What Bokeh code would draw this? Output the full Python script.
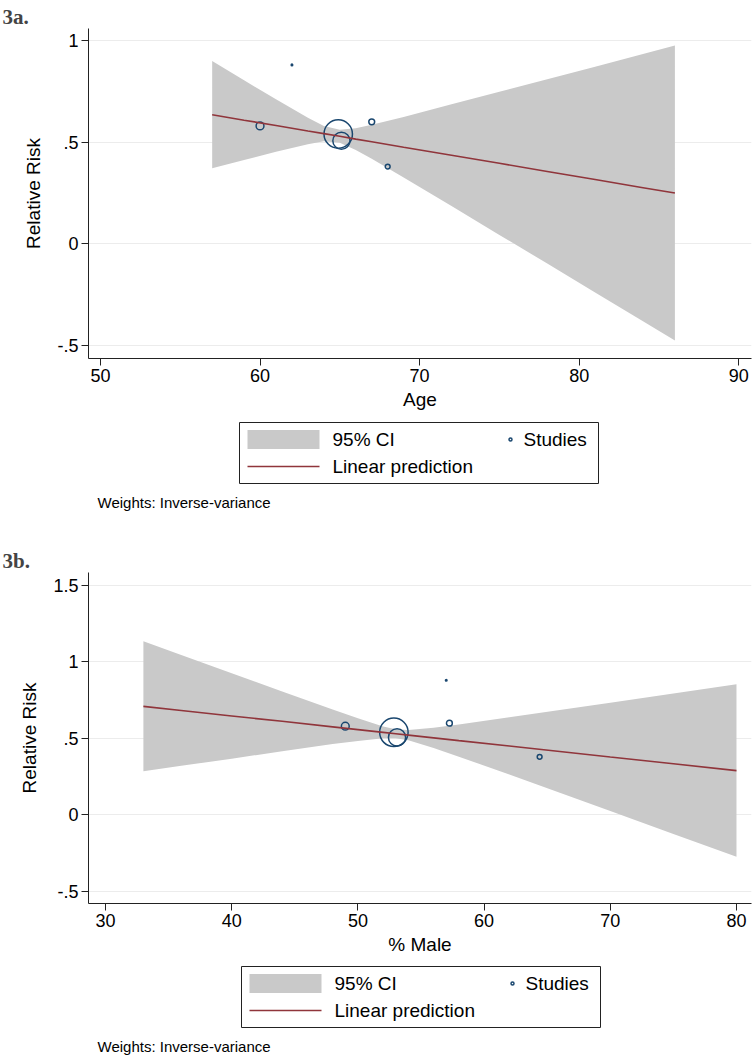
import math
from bokeh.plotting import figure
from bokeh.models import FixedTicker, Range1d, CustomJSTickFormatter
from bokeh.core.properties import value
from bokeh.layouts import column
from bokeh.embed import file_html
from bokeh.resources import INLINE

# ---------------- data ----------------
study_rr = [0.58, 0.88, 0.54, 0.507, 0.60, 0.38]
study_weight = [5.0, 0.2, 66.1, 24.1, 2.8, 1.9]
study_age = [60.0, 62.0, 64.9, 65.1, 67.0, 68.0]
study_male = [49.0, 57.0, 52.85, 53.1, 57.25, 64.4]

age_grid = [57, 59, 61, 63, 64, 65, 66, 67, 69, 72, 75, 78, 81, 84, 86]
age_fit = [0.635, 0.608, 0.582, 0.555, 0.542, 0.529, 0.515, 0.502, 0.475, 0.436,
           0.396, 0.356, 0.316, 0.276, 0.250]
age_lo = [0.372, 0.412, 0.453, 0.490, 0.504, 0.497, 0.462, 0.418, 0.326, 0.186,
          0.044, -0.097, -0.239, -0.381, -0.475]
age_hi = [0.899, 0.804, 0.711, 0.620, 0.580, 0.561, 0.568, 0.586, 0.624, 0.686,
          0.748, 0.809, 0.871, 0.933, 0.975]

male_grid = [33, 36, 40, 44, 48, 50, 52, 53, 54, 56, 58, 62, 66, 70, 75, 80]
male_fit = [0.710, 0.683, 0.647, 0.612, 0.576, 0.558, 0.540, 0.531, 0.522, 0.504,
            0.486, 0.451, 0.415, 0.379, 0.335, 0.290]
male_lo = [0.285, 0.321, 0.368, 0.416, 0.463, 0.484, 0.501, 0.501, 0.488, 0.438,
           0.381, 0.264, 0.145, 0.025, -0.124, -0.274]
male_hi = [1.135, 1.045, 0.926, 0.807, 0.689, 0.632, 0.579, 0.561, 0.556, 0.570,
           0.591, 0.638, 0.686, 0.733, 0.794, 0.854]

age_ticks = [50, 60, 70, 80, 90]
male_ticks = [30, 40, 50, 60, 70, 80]
rr_ticks_a = [-0.5, 0, 0.5, 1]
rr_ticks_b = [-0.5, 0, 0.5, 1, 1.5]

legend_labels = ["95% CI", "Studies", "Linear prediction"]
note_text = "Weights: Inverse-variance"

# ---------------- styles ----------------
GRAY = "#c9c9c9"
MAROON = "#90353b"
NAVY = "#1a476f"
SANS = "Liberation Sans"
SIZE_K = 3.5
W = 753
LEFT = 88
RIGHT = 2
FRAME_L = LEFT              # page x of the plot frame's left edge
FRAME_R = W - RIGHT         # page x of the plot frame's right edge


def panel(tag, xs, grid, fit, lo, hi, xlabel, xr, yr, xticks, yticks,
          height, top):
    p = figure(width=W, height=height, output_backend="svg", toolbar_location=None,
               x_range=Range1d(*xr), y_range=Range1d(*yr),
               min_border_left=LEFT, min_border_right=RIGHT, min_border_top=top,
               min_border_bottom=0)
    p.outline_line_color = None
    p.title.text = tag
    p.title.align = "left"
    p.title.offset = -LEFT + 2
    p.title.text_font = "Liberation Serif"
    p.title.text_font_size = "21px"
    p.title.text_font_style = "bold"
    p.title.standoff = 0

    p.varea(x=grid, y1=lo, y2=hi, fill_color=GRAY)
    sizes = [SIZE_K * math.sqrt(w) for w in study_weight]
    p.scatter(xs, study_rr, size=sizes, marker="circle", fill_color=None,
              line_color=NAVY, line_width=1.5)
    p.line(grid, fit, line_color=MAROON, line_width=1.6)

    p.xgrid.visible = False
    p.ygrid.ticker = FixedTicker(ticks=yticks)
    p.ygrid.grid_line_color = "#ececec"
    p.ygrid.grid_line_width = 1

    for ax in (p.xaxis[0], p.yaxis[0]):
        ax.axis_line_color = "#222222"
        ax.major_tick_line_color = "#222222"
        ax.major_tick_out = 7
        ax.major_tick_in = 0
        ax.minor_tick_out = 0
        ax.minor_tick_in = 0
        ax.major_label_text_font = SANS
        ax.major_label_text_font_size = "18px"
        ax.major_label_text_color = "black"
        ax.major_label_standoff = 3
        ax.axis_label_text_font = SANS
        ax.axis_label_text_font_size = "19px"
        ax.axis_label_text_font_style = "normal"
        ax.axis_label_text_color = "black"
    p.xaxis.ticker = FixedTicker(ticks=xticks)
    p.xaxis.axis_label = xlabel
    p.xaxis.axis_label_standoff = 4
    p.yaxis.ticker = FixedTicker(ticks=yticks)
    p.yaxis.formatter = CustomJSTickFormatter(code="return tick.toString().replace('0.', '.');")
    p.yaxis.axis_label = "Relative Risk"
    p.yaxis.axis_label_standoff = 10
    return p


def legend_fig(height, box_left, box_top, note_y):
    """Stata-style legend box plus the weights note, in page-pixel units."""
    q = figure(width=W, height=height, output_backend="svg", toolbar_location=None,
               x_range=Range1d(FRAME_L, FRAME_R), y_range=Range1d(height, 0),
               x_axis_location=None, y_axis_location=None,
               min_border_left=LEFT, min_border_right=RIGHT,
               min_border_top=0, min_border_bottom=0)
    q.grid.visible = False
    q.outline_line_color = None
    bw, bh = 359, 61
    q.quad(left=box_left, right=box_left + bw, top=box_top, bottom=box_top + bh,
           fill_color="white", line_color="#222222", line_width=1)
    r1, r2 = box_top + 17, box_top + 44
    q.quad(left=box_left + 8, right=box_left + 80, top=r1 - 9.5, bottom=r1 + 9.5,
           fill_color=GRAY, line_color=None)
    q.line([box_left + 8, box_left + 80], [r2, r2], line_color=MAROON, line_width=1.6)
    q.scatter([box_left + 271], [r1], size=3, marker="circle", fill_color=None,
              line_color=NAVY, line_width=1.5)
    q.text(x=[box_left + 93, box_left + 284, box_left + 93], y=[r1, r1, r2],
           text=legend_labels, text_font=value(SANS), text_font_size="19px",
           text_baseline="middle", text_align="left", text_color="black")
    q.text(x=[97], y=[note_y], text=[note_text], text_font=value(SANS),
           text_font_size="15px", text_baseline="middle", text_align="left",
           text_color="black")
    return q


pa = panel("3a.", study_age, age_grid, age_fit, age_lo, age_hi, "Age",
           (49.25, 90.8), (-0.564, 1.059), age_ticks, rr_ticks_a, 412, 28)
la = legend_fig(99, 239, 10, 90)
pb = panel("3b.", study_male, male_grid, male_fit, male_lo, male_hi, "% Male",
           (28.65, 81.19), (-0.579, 1.585), male_ticks, rr_ticks_b, 446, 61)
lb = legend_fig(99, 241, 9, 89)

layout = column(pa, la, pb, lb, spacing=0)
open("out.html", "w").write(file_html(layout, INLINE))
